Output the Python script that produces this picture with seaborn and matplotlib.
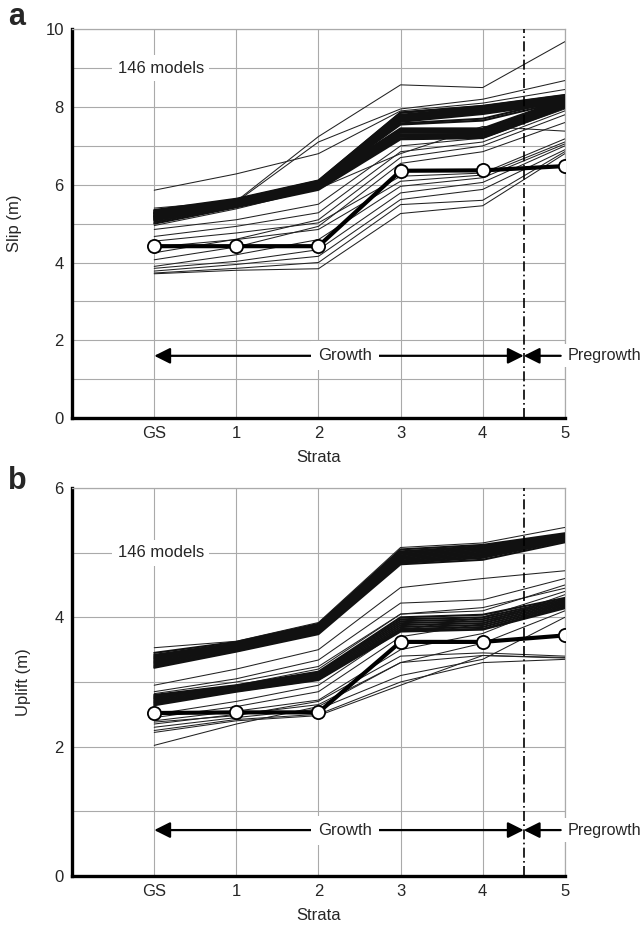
#! /usr/bin/env python
"""
Slip and uplift per stratum for the 146 fold models, best-fit model highlighted
"""

import pandas as pd
import seaborn as sns
import matplotlib.pyplot as plt

STRATA = ["GS", "1", "2", "3", "4", "5"]

# Slip (m) of the model runs, one row per model, values at GS,1,2,3,4,5
# runs that fall in the dense main bundle
slip_bundle = [
    [5.35, 5.64, 6.11, 7.86, 8.03, 8.31],
    [5.30, 5.62, 6.10, 7.85, 8.02, 8.30],
    [5.28, 5.60, 6.08, 7.80, 8.00, 8.26],
    [5.25, 5.58, 6.05, 7.78, 7.97, 8.24],
    [5.22, 5.55, 6.03, 7.75, 7.95, 8.22],
    [5.20, 5.53, 6.01, 7.72, 7.92, 8.20],
    [5.18, 5.52, 6.00, 7.70, 7.90, 8.18],
    [5.15, 5.50, 5.98, 7.68, 7.88, 8.16],
    [5.12, 5.48, 5.96, 7.65, 7.85, 8.14],
    [5.10, 5.46, 5.94, 7.62, 7.82, 8.12],
    [5.18, 5.55, 6.02, 7.55, 7.65, 8.15],
    [5.26, 5.58, 6.04, 7.58, 7.70, 8.20],
    [5.33, 5.62, 6.08, 7.45, 7.45, 8.20],
    [5.30, 5.60, 6.06, 7.42, 7.42, 8.18],
    [5.27, 5.58, 6.04, 7.40, 7.40, 8.15],
    [5.24, 5.56, 6.02, 7.37, 7.36, 8.12],
    [5.20, 5.54, 6.00, 7.34, 7.33, 8.10],
    [5.16, 5.52, 5.98, 7.30, 7.30, 8.08],
    [5.13, 5.50, 5.96, 7.27, 7.27, 8.05],
    [5.08, 5.47, 5.93, 7.24, 7.24, 8.02],
    [5.04, 5.45, 5.90, 7.20, 7.22, 8.00],
    [5.00, 5.42, 5.87, 7.17, 7.20, 7.98],
]
# runs scattered around the bundle
slip_scatter = [
    [5.40, 5.58, 7.24, 8.57, 8.50, 9.68],
    [5.35, 5.56, 7.10, 7.95, 8.20, 8.68],
    [5.86, 6.28, 6.80, 7.90, 8.10, 8.45],
    [4.95, 5.38, 5.90, 6.80, 7.50, 7.38],
    [4.85, 5.10, 5.50, 7.00, 7.20, 7.95],
    [4.67, 4.93, 5.28, 6.85, 7.10, 7.90],
    [4.25, 4.60, 5.10, 6.70, 7.00, 7.80],
    [4.07, 4.40, 4.93, 6.55, 6.85, 7.60],
    [4.55, 4.76, 5.02, 6.22, 6.30, 7.18],
    [4.40, 4.59, 4.85, 6.09, 6.25, 7.10],
    [3.90, 4.20, 4.59, 5.96, 6.18, 7.05],
    [3.85, 4.03, 4.33, 5.79, 6.06, 7.00],
    [3.78, 3.95, 4.16, 5.62, 5.88, 6.90],
    [3.73, 3.85, 4.00, 5.49, 5.60, 6.85],
    [3.71, 3.80, 3.84, 5.26, 5.46, 6.80],
]
slip_best = [4.42, 4.42, 4.42, 6.36, 6.37, 6.48]

# Uplift (m) of the model runs
uplift_bundle = [
    # upper bundle
    [3.45, 3.62, 3.90, 5.05, 5.12, 5.30],
    [3.42, 3.60, 3.88, 5.02, 5.10, 5.28],
    [3.40, 3.59, 3.87, 5.00, 5.08, 5.27],
    [3.38, 3.58, 3.86, 4.98, 5.06, 5.26],
    [3.36, 3.57, 3.85, 4.96, 5.04, 5.25],
    [3.34, 3.56, 3.84, 4.94, 5.02, 5.24],
    [3.32, 3.54, 3.82, 4.92, 5.00, 5.23],
    [3.30, 3.53, 3.81, 4.90, 4.98, 5.22],
    [3.28, 3.52, 3.80, 4.88, 4.96, 5.21],
    [3.26, 3.50, 3.78, 4.86, 4.94, 5.20],
    [3.24, 3.48, 3.76, 4.84, 4.92, 5.18],
    [3.22, 3.47, 3.74, 4.82, 4.89, 5.16],
    # lower bundle
    [2.80, 2.95, 3.16, 4.00, 4.04, 4.30],
    [2.78, 2.94, 3.14, 3.97, 4.00, 4.28],
    [2.76, 2.93, 3.12, 3.94, 3.97, 4.26],
    [2.74, 2.92, 3.10, 3.91, 3.94, 4.24],
    [2.72, 2.90, 3.08, 3.88, 3.91, 4.22],
    [2.70, 2.88, 3.06, 3.85, 3.88, 4.20],
    [2.68, 2.87, 3.05, 3.82, 3.85, 4.18],
    [2.66, 2.86, 3.04, 3.80, 3.82, 4.16],
    [2.64, 2.85, 3.03, 3.78, 3.81, 4.14],
]
uplift_scatter = [
    [3.53, 3.63, 3.92, 5.08, 5.15, 5.39],
    [2.95, 3.20, 3.50, 4.46, 4.60, 4.72],
    [2.85, 3.05, 3.34, 4.22, 4.27, 4.60],
    [2.82, 3.00, 3.24, 4.05, 4.10, 4.50],
    [2.75, 2.95, 3.20, 4.05, 4.15, 4.45],
    [2.50, 2.70, 2.95, 3.80, 4.00, 4.40],
    [2.45, 2.62, 2.85, 3.70, 3.90, 4.35],
    [2.40, 2.55, 2.72, 3.50, 3.75, 4.25],
    [2.35, 2.50, 2.65, 3.30, 3.60, 4.10],
    [2.30, 2.45, 2.58, 3.10, 3.35, 4.00],
    [2.25, 2.42, 2.50, 3.00, 3.30, 3.35],
    [2.22, 2.40, 2.48, 2.95, 3.41, 3.37],
    [2.02, 2.35, 2.62, 3.30, 3.41, 3.38],
    [2.38, 2.48, 2.70, 3.40, 3.45, 3.40],
]
uplift_best = [2.52, 2.53, 2.53, 3.62, 3.62, 3.72]


def to_long(models: list[list[float]]) -> pd.DataFrame:
    rows = []
    for i, values in enumerate(models):
        for pos, v in enumerate(values):
            rows.append((i, pos, v))
    return pd.DataFrame(rows, columns=["model", "pos", "value"])


def draw_panel(ax, bundle, scatter, best, ymax, ylabel, models_y, arrow_y) -> None:
    sns.lineplot(data=to_long(scatter), x="pos", y="value", units="model",
                 estimator=None, color="#222222", lw=0.75, ax=ax, zorder=3)
    sns.lineplot(data=to_long(bundle), x="pos", y="value", units="model",
                 estimator=None, color="#111111", lw=1.5, ax=ax, zorder=3)
    best_df = pd.DataFrame({"pos": range(len(best)), "value": best})
    sns.lineplot(data=best_df, x="pos", y="value", color="black", lw=3,
                 marker="o", markersize=9.5, markerfacecolor="white",
                 markeredgecolor="black", markeredgewidth=1.3, ax=ax, zorder=5)

    ax.set_xlim(-1, 5)
    ax.set_ylim(0, ymax)
    ax.set_xticks(range(6))
    ax.set_xticklabels(STRATA)
    ax.set_yticks(range(0, ymax + 1, 2))
    ax.set_yticks(range(1, ymax, 2), minor=True)
    ax.set_xticks([], minor=True)
    ax.tick_params(which="both", length=0, labelsize=12, pad=6)
    ax.grid(True, which="both", color="#aaaaaa", lw=0.8)
    ax.set_axisbelow(True)
    ax.set_xlabel("Strata", fontsize=12, labelpad=6)
    ax.set_ylabel(ylabel, fontsize=12, labelpad=17)

    for side in ["left", "bottom"]:
        ax.spines[side].set_linewidth(2.4)
        ax.spines[side].set_color("black")
    for side in ["top", "right"]:
        ax.spines[side].set_linewidth(0.9)
        ax.spines[side].set_color("#aaaaaa")

    ax.axvline(4.5, color="black", lw=1.2, ls=(0, (6, 2, 1, 2)), zorder=4)

    ax.text(0.08, models_y, "146 models", fontsize=12, ha="center", va="center",
            bbox=dict(facecolor="white", edgecolor="none", pad=4), zorder=6)

    ax.annotate("", xy=(0, arrow_y), xytext=(4.5, arrow_y),
                arrowprops=dict(arrowstyle="<|-|>", lw=1.6, color="black",
                                mutation_scale=24, shrinkA=0, shrinkB=0),
                zorder=6)
    ax.text(2.32, arrow_y, "Growth", fontsize=12, ha="center", va="center",
            bbox=dict(facecolor="white", edgecolor="none", pad=5), zorder=7)
    ax.annotate("", xy=(4.5, arrow_y), xytext=(4.95, arrow_y),
                arrowprops=dict(arrowstyle="-|>", lw=1.6, color="black",
                                mutation_scale=24, shrinkA=0, shrinkB=0),
                zorder=6)
    ax.text(5.03, arrow_y, "Pregrowth", fontsize=11.6, ha="left", va="center",
            bbox=dict(facecolor="white", edgecolor="none", pad=3),
            zorder=7, clip_on=False)


def run() -> None:
    sns.set_style("white")
    plt.rcParams["font.family"] = ["Liberation Sans", "DejaVu Sans"]

    fig = plt.figure(figsize=(6.44, 9.32), dpi=100)
    ax_a = fig.add_axes([0.112, 0.5515, 0.765, 0.4171])
    ax_b = fig.add_axes([0.112, 0.0601, 0.765, 0.4163])

    draw_panel(ax_a, slip_bundle, slip_scatter, slip_best, 10, "Slip (m)", 9.0, 1.6)
    draw_panel(ax_b, uplift_bundle, uplift_scatter, uplift_best, 6, "Uplift (m)", 5.0, 0.71)

    fig.text(0.012, 0.982, "a", fontsize=22, fontweight="bold", va="center")
    fig.text(0.012, 0.484, "b", fontsize=22, fontweight="bold", va="center")

    fig.savefig("out.png", dpi=100)


if __name__ == "__main__":
    run()
